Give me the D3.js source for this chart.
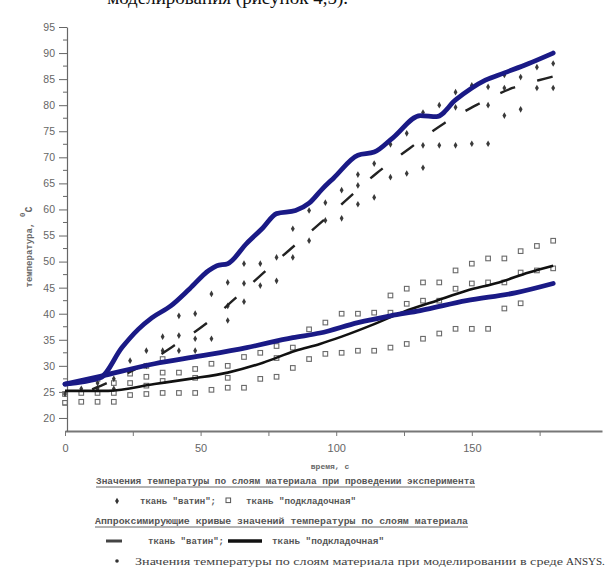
<!DOCTYPE html>
<html>
<head>
<meta charset="utf-8">
<script src="https://cdn.jsdelivr.net/npm/d3@7"></script>
<style>
  body { margin: 0; background: #fff; }
  svg { display: block; }
</style>
</head>
<body>
<svg id="chart" width="606" height="578"></svg>
<script>
// ---- axis ticks ----
const timeTicks = [0, 25, 50, 75, 100, 125, 150, 175];
const timeLabels = { 0: "0", 50: "50", 100: "100", 150: "150" };
const tempTicks = [20, 25, 30, 35, 40, 45, 50, 55, 60, 65, 70, 75, 80, 85, 90, 95];
const tempMinorTicks = [22.5, 27.5, 32.5, 37.5, 42.5, 47.5, 52.5, 57.5, 62.5, 67.5, 72.5, 77.5, 82.5, 87.5, 92.5];

// ---- ANSYS model curves [time s, temperature °C] ----
const ansysVatin = [[0,26.5],[13,27.7],[21,33.5],[27,37],[32,39.2],[39,41.5],[46,44.8],[53,48.3],[56,49.2],[60,49.6],[67,53.5],[73,56.5],[78,59.2],[85,59.8],[90,61.2],[95,64],[99,66],[108,70.4],[114,71],[121,73.8],[131,78],[137,77.8],[144,81],[155,84.8],[162,86.2],[171,88],[180,90]];
const ansysPodklad = [[0,26.5],[13,28],[33,30.4],[50,31.9],[67,33.5],[84,35.4],[94,36.3],[108,38.3],[120,39.6],[131,40.6],[148,42.5],[166,44],[180,45.8]];

// ---- approximating curves ----
const fitVatin = [[10,25.5],[20,27.8],[30,30.5],[40,33.8],[53,38.5],[65,44],[77,49.6],[90,55.5],[102,61],[115,67],[127,71.7],[140,76.6],[152,80.1],[165,83.3],[177,85.1],[180,85.5]];
const fitPodklad = [[0,25.2],[16,25.2],[33,26.5],[46,27.5],[60,28.7],[73,30.6],[85,32.9],[94,34.2],[102,35.6],[114,38],[125,40.4],[137,42.5],[148,44.4],[160,46],[171,47.9],[180,49.2]];

// ---- experimental values by layer ----
const expVatin = [
  [0,24.6],[6,25.6],[12,25.6],[12,26.7],[18,25.6],[18,27.5],
  [24,31],[30,32.9],[30,30],[36,35.6],[36,32.9],
  [42,39.6],[42,35.8],[42,32.9],[48,40],[48,35.2],[48,32.9],
  [54,43.8],[54,35.2],[60,46],[60,41.5],[60,38.7],
  [66,49.6],[66,45.8],[66,42.3],[72,49.6],[72,45.4],[78,50.8],[78,46.3],
  [84,56.3],[84,50.8],[90,59.8],[90,54],[96,61.3],[96,57.9],
  [102,63.7],[102,58.3],[108,66.7],[108,64.6],[108,61],[114,68.8],[114,62.3],
  [120,72.5],[120,66.2],[126,74.6],[126,66.9],[132,78.6],[132,72.3],[132,68],
  [138,80],[138,72.3],[144,82.5],[144,79.6],[144,72.3],[150,83.8],[150,72.6],
  [156,83.5],[156,80],[156,72.6],[162,85.8],[162,83.3],[162,78],
  [168,85.4],[168,79.2],[174,87.3],[174,83.3],[180,88],[180,83.3]
];
const expPodklad = [
  [0,24.6],[0,22.9],[6,24.8],[6,23.1],[12,27.5],[12,24.8],[12,23.1],
  [18,26.7],[18,24.8],[18,23.1],[24,28.5],[24,26.7],[24,24.4],
  [30,30],[30,27.9],[30,26.2],[30,24.6],[36,31.3],[36,28.7],[36,27.1],[36,24.8],
  [42,28.7],[42,24.8],[48,29.4],[48,27.7],[48,24.8],[54,30.4],[54,25.4],
  [60,30],[60,27.7],[60,25.8],[66,31.7],[66,25.8],[72,32.5],[72,27.5],
  [78,33.8],[78,31.5],[78,27.9],[84,33.5],[84,29.6],[90,37],[90,31.3],
  [96,38.3],[96,32.3],[102,40],[102,32.5],[108,40],[108,32.9],[114,40.2],[114,32.9],
  [120,43.5],[120,40.2],[120,33.5],[126,44.8],[126,41.9],[126,34.2],
  [132,46],[132,42.5],[132,35.2],[138,46],[138,42.5],[138,36.2],
  [144,48.3],[144,44.8],[144,37.1],[150,49.6],[150,45.8],[150,37.1],
  [156,50.6],[156,46],[156,37.1],[162,50.6],[162,46],[162,41],
  [168,52],[168,47.9],[168,42],[174,53],[174,48.3],[180,54],[180,48.7]
];

// ---- texts ----
const xTitle = "время, с";
const yTitle = "температура, ";
const legendExpTitle = "Значения температуры по слоям материала при проведении эксперимента";
const legendFitTitle = "Аппроксимирующие кривые значений температуры по слоям материала";
const legendVatin = "ткань \"ватин\";";
const legendPodklad = "ткань \"подкладочная\"";
const legendAnsys = "Значения температуры по слоям материала при моделировании в среде";

const svg = d3.select("#chart");
svg.append("rect").attr("width", 606).attr("height", 578).attr("fill", "#fff");

const x = d3.scaleLinear().domain([0, 198]).range([65, 602]);
const y = d3.scaleLinear().domain([17.5, 95]).range([431, 27]);

// running text line above the figure, cut by the page edge
svg.append("text")
  .attr("x", 348).attr("y", 4)
  .attr("text-anchor", "end")
  .attr("font-family", "Liberation Serif, serif")
  .attr("font-size", 19)
  .attr("fill", "#111")
  .text("моделирования (рисунок 4,5).");

// ---- axes ----
const gx = svg.append("g").attr("transform", "translate(0,431)")
  .call(d3.axisBottom(x).tickValues(timeTicks).tickSize(5).tickSizeOuter(0)
    .tickFormat(d => timeLabels[d] || ""));
gx.select(".domain").attr("stroke", "#777").attr("stroke-width", 2.2);
gx.selectAll(".tick line").attr("stroke", "#777");
gx.selectAll(".tick text").attr("font-family", "Arial, Liberation Sans, sans-serif")
  .attr("font-size", 11).attr("fill", "#666").attr("dy", "1.2em");

const gy = svg.append("g").attr("transform", "translate(67,0)")
  .call(d3.axisLeft(y).tickValues(tempTicks).tickSize(8).tickSizeOuter(0));
gy.select(".domain").attr("stroke", "#666").attr("stroke-width", 1.2);
gy.selectAll(".tick line").attr("stroke", "#666");
gy.selectAll(".tick text").attr("font-family", "Arial, Liberation Sans, sans-serif")
  .attr("font-size", 10.5).attr("fill", "#666").attr("x", -12);
gy.selectAll(".minor").data(tempMinorTicks).join("line")
  .attr("x1", -4).attr("x2", 0)
  .attr("y1", d => y(d)).attr("y2", d => y(d))
  .attr("stroke", "#666");

svg.append("text")
  .attr("x", 330).attr("y", 469)
  .attr("text-anchor", "middle")
  .attr("font-family", "Liberation Mono, monospace")
  .attr("font-size", 8).attr("font-weight", "bold").attr("fill", "#666")
  .text(xTitle);

const yt = svg.append("text")
  .attr("transform", "translate(32,247) rotate(-90)")
  .attr("text-anchor", "middle")
  .attr("font-family", "Liberation Mono, monospace")
  .attr("font-size", 9).attr("font-weight", "bold").attr("fill", "#666");
yt.append("tspan").text(yTitle);
yt.append("tspan").attr("dy", -7).attr("font-size", 8).text("0");
yt.append("tspan").attr("dy", 7).attr("font-size", 10).text("C");

// ---- marks ----
const line = d3.line().x(d => x(d[0])).y(d => y(d[1])).curve(d3.curveMonotoneX);

// experimental points: squares for lining fabric
svg.append("g").selectAll("rect").data(expPodklad).join("rect")
  .attr("x", d => x(d[0]) - 2.3).attr("y", d => y(d[1]) - 2.3)
  .attr("width", 4.6).attr("height", 4.6)
  .attr("fill", "none").attr("stroke", "#6a6a6a").attr("stroke-width", 1.1);

// experimental points: diamonds for batting
const diamond = d3.symbol().type(d3.symbolDiamond).size(13);
svg.append("g").selectAll("path").data(expVatin).join("path")
  .attr("transform", d => `translate(${x(d[0])},${y(d[1])})`)
  .attr("d", diamond)
  .attr("fill", "#3a3a3a");

// approximating curves
svg.append("path").datum(fitVatin).attr("d", line)
  .attr("fill", "none").attr("stroke", "#222").attr("stroke-width", 2.4)
  .attr("stroke-dasharray", "16,23");
svg.append("path").datum(fitPodklad).attr("d", line)
  .attr("fill", "none").attr("stroke", "#111").attr("stroke-width", 2.6);

// ANSYS curves
[ansysPodklad, ansysVatin].forEach(s => {
  svg.append("path").datum(s).attr("d", line)
    .attr("fill", "none").attr("stroke", "#1a1a86").attr("stroke-width", 4.8)
    .attr("stroke-linejoin", "round").attr("stroke-linecap", "round");
});

// ---- legend ----
const mono = "Liberation Mono, monospace";
const lg = svg.append("g").attr("fill", "#555").attr("font-family", mono)
  .attr("font-size", 9).attr("font-weight", "bold");

lg.append("text").attr("x", 96).attr("y", 484)
  .attr("textLength", 379).attr("lengthAdjust", "spacingAndGlyphs").text(legendExpTitle);
lg.append("line").attr("x1", 96).attr("x2", 475).attr("y1", 487).attr("y2", 487)
  .attr("stroke", "#666").attr("stroke-width", 1);

lg.append("path").attr("transform", "translate(117,501)").attr("d", diamond).attr("fill", "#333");
lg.append("text").attr("x", 140).attr("y", 504)
  .attr("textLength", 76).attr("lengthAdjust", "spacingAndGlyphs").text(legendVatin);
lg.append("rect").attr("x", 226).attr("y", 498).attr("width", 4.6).attr("height", 4.6)
  .attr("fill", "none").attr("stroke", "#555");
lg.append("text").attr("x", 246).attr("y", 504)
  .attr("textLength", 110).attr("lengthAdjust", "spacingAndGlyphs").text(legendPodklad);

lg.append("text").attr("x", 95).attr("y", 524)
  .attr("textLength", 373).attr("lengthAdjust", "spacingAndGlyphs").text(legendFitTitle);
lg.append("line").attr("x1", 95).attr("x2", 468).attr("y1", 527).attr("y2", 527)
  .attr("stroke", "#666").attr("stroke-width", 1);

lg.append("line").attr("x1", 106).attr("x2", 122).attr("y1", 541).attr("y2", 541)
  .attr("stroke", "#444").attr("stroke-width", 3);
lg.append("text").attr("x", 148).attr("y", 544)
  .attr("textLength", 76).attr("lengthAdjust", "spacingAndGlyphs").text(legendVatin);
lg.append("line").attr("x1", 228).attr("x2", 262).attr("y1", 541).attr("y2", 541)
  .attr("stroke", "#111").attr("stroke-width", 3.5);
lg.append("text").attr("x", 272).attr("y", 544)
  .attr("textLength", 112).attr("lengthAdjust", "spacingAndGlyphs").text(legendPodklad);

lg.append("circle").attr("cx", 117).attr("cy", 561).attr("r", 1.8).attr("fill", "#333");
lg.append("text").attr("x", 135).attr("y", 565).attr("font-family", "Liberation Serif, serif")
  .attr("font-size", 10).attr("font-weight", "normal").attr("fill", "#444")
  .attr("textLength", 428).attr("lengthAdjust", "spacingAndGlyphs").text(legendAnsys);
lg.append("text").attr("x", 566).attr("y", 565).attr("font-family", "Liberation Serif, serif")
  .attr("font-size", 11).attr("font-weight", "normal").attr("fill", "#333").text("ANSYS.");
</script>
</body>
</html>
